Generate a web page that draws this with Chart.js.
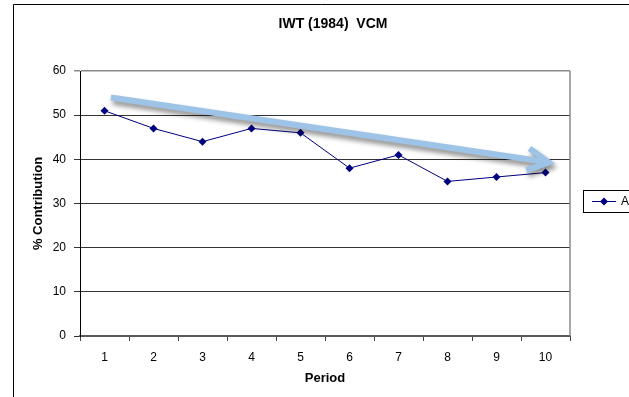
<!DOCTYPE html>
<html>
<head>
<meta charset="utf-8">
<script src="https://cdn.jsdelivr.net/npm/chart.js@4/dist/chart.umd.min.js"></script>
<style>
	html, body { margin: 0; padding: 0; background: #fff; }
	#wrap { width: 629px; height: 397px; }
</style>
</head>
<body>
<div id="wrap"><canvas id="chart-vcm"></canvas></div>
<script>
// Data
// ================================================================================
let periods = ["1", "2", "3", "4", "5", "6", "7", "8", "9", "10"];
let contribution = [51, 47, 44, 47, 46, 38, 41, 35, 36, 37];
let series_label = "Average";
let chart_title = "IWT (1984)  VCM";

// trend arrow, in (period index, % contribution)
let trend_from = [0.13, 54];
let trend_to = [9.07, 39.3];

let font_family = "'Liberation Sans', Arial, sans-serif";
let navy = "#000080";

// Decorations: frame, title, plot border, legend box, trend arrow
// ================================================================================
let decorations = {
	id: "decorations",
	beforeDraw(chart) {
		let ctx = chart.ctx;
		ctx.save();
		ctx.fillStyle = "#fff";
		ctx.fillRect(0, 0, chart.width, chart.height);
		ctx.strokeStyle = "#000";
		ctx.lineWidth = 1;
		ctx.beginPath();
		ctx.moveTo(13.5, 397);
		ctx.lineTo(13.5, 4.5);
		ctx.lineTo(629, 4.5);
		ctx.stroke();

		ctx.fillStyle = "#000";
		ctx.font = "bold 14px " + font_family;
		ctx.textAlign = "center";
		ctx.textBaseline = "middle";
		ctx.fillText(chart_title, 333, 24);
		ctx.restore();
	},
	afterDraw(chart) {
		let ctx = chart.ctx;
		let area = chart.chartArea;
		let x = chart.scales.x, y = chart.scales.y;
		ctx.save();

		// right edge of plot area
		ctx.strokeStyle = "#8a8a8a";
		ctx.lineWidth = 1.5;
		ctx.beginPath();
		ctx.moveTo(area.right, area.top);
		ctx.lineTo(area.right, area.bottom);
		ctx.stroke();

		// legend
		ctx.strokeStyle = "#000";
		ctx.lineWidth = 1;
		ctx.strokeRect(583.5, 190.5, 60, 22);
		ctx.strokeStyle = navy;
		ctx.beginPath();
		ctx.moveTo(592, 201.5);
		ctx.lineTo(616, 201.5);
		ctx.stroke();
		ctx.fillStyle = navy;
		ctx.beginPath();
		ctx.moveTo(604, 197.5);
		ctx.lineTo(608, 201.5);
		ctx.lineTo(604, 205.5);
		ctx.lineTo(600, 201.5);
		ctx.closePath();
		ctx.fill();
		ctx.fillStyle = "#000";
		ctx.font = "12px " + font_family;
		ctx.textBaseline = "middle";
		ctx.fillText(series_label, 621, 202);

		// trend arrow with soft shadow
		let x0 = x.getPixelForValue(trend_from[0]), y0 = y.getPixelForValue(trend_from[1]);
		let x1 = x.getPixelForValue(trend_to[0]), y1 = y.getPixelForValue(trend_to[1]);
		let ang = Math.atan2(y1 - y0, x1 - x0);
		let head = 24, spread = 0.48;
		ctx.shadowColor = "rgba(0,0,0,0.45)";
		ctx.shadowBlur = 5;
		ctx.shadowOffsetX = 2;
		ctx.shadowOffsetY = 4;
		ctx.strokeStyle = "#9dc3e6";
		ctx.lineWidth = 6;
		ctx.lineJoin = "miter";
		ctx.beginPath();
		ctx.moveTo(x0, y0);
		ctx.lineTo(x1 - 4 * Math.cos(ang), y1 - 4 * Math.sin(ang));
		ctx.moveTo(x1 - head * Math.cos(ang - spread), y1 - head * Math.sin(ang - spread));
		ctx.lineTo(x1, y1);
		ctx.lineTo(x1 - head * Math.cos(ang + spread), y1 - head * Math.sin(ang + spread));
		ctx.stroke();
		ctx.restore();
	}
};

// Chart
// ================================================================================
let vcm_chart = new Chart(document.getElementById("chart-vcm"), {
	type: "line",
	data: {
		labels: periods,
		datasets: [{
			label: series_label,
			data: contribution,
			borderColor: navy,
			backgroundColor: navy,
			borderWidth: 1,
			pointStyle: "rectRot",
			pointRadius: 4,
			pointBorderWidth: 0,
			tension: 0
		}]
	},
	options: {
		responsive: true,
		maintainAspectRatio: false,
		animation: false,
		events: [],
		layout: { padding: { top: 71, right: 59, bottom: 0, left: 26 } },
		plugins: {
			legend: { display: false },
			title: { display: false },
			tooltip: { enabled: false }
		},
		scales: {
			x: {
				offset: true,
				afterFit: (scale) => { scale.height = 61; },
				grid: {
					offset: true,
					drawOnChartArea: false,
					tickLength: 5,
					color: "#444"
				},
				border: { color: "#5a5a5a", width: 2 },
				ticks: {
					color: "#000",
					padding: 9,
					maxRotation: 0,
					font: { family: font_family, size: 12 }
				},
				title: {
					display: true,
					text: "Period",
					color: "#000",
					padding: { top: 0, bottom: 11 },
					font: { family: font_family, size: 13, weight: "bold" }
				}
			},
			y: {
				min: 0,
				max: 60,
				afterFit: (scale) => { scale.width = 54; },
				grid: {
					tickLength: 6,
					color: (c) => c.tick && c.tick.value === 60 ? "#8a8a8a" : "#333",
					lineWidth: (c) => c.tick && c.tick.value === 60 ? 1.5 : 1
				},
				border: { color: "#000", width: 1 },
				ticks: {
					stepSize: 10,
					color: "#000",
					padding: 8,
					font: { family: font_family, size: 12 }
				},
				title: {
					display: true,
					text: "% Contribution",
					color: "#000",
					padding: { top: 5, bottom: 0 },
					font: { family: font_family, size: 13, weight: "bold" }
				}
			}
		}
	},
	plugins: [decorations]
});
</script>
</body>
</html>
